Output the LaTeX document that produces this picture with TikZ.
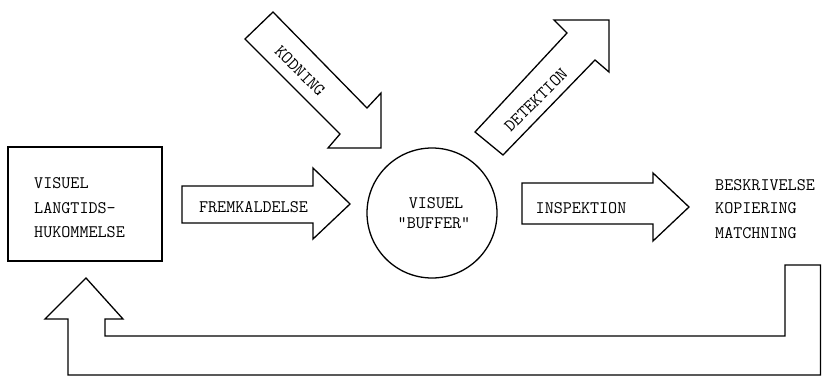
\documentclass[tikz,border=0pt]{standalone}
\usepackage{fontspec}
\begin{document}
\begin{tikzpicture}[x=1pt,y=-1pt,
  shapeline/.style={draw=black,line width=1.3pt,line join=miter},
  lbl/.style={font=\ttfamily\fontsize{17.6}{20}\selectfont,inner sep=0pt},
  lblw/.style={lbl,anchor=base west},
  lblc/.style={lbl,anchor=base}]
\useasboundingbox[fill=white] (0,0) rectangle (822,377);

% visual long-term memory box
\node[shapeline,line width=1.6pt,minimum width=154pt,minimum height=114pt,inner sep=0pt] (vlt) at (85,204) {};
\node[lblw] (vlt1) at (34,188) {VISUEL};
\node[lblw] (vlt2) at (34,213) {LANGTIDS-};
\node[lblw] (vlt3) at (34,237) {HUKOMMELSE};

% visual buffer
\node[shapeline,circle,minimum size=130pt,inner sep=0pt] (buf) at (432,213) {};
\node[lblc] (buf1) at (436,208) {VISUEL};
\node[lblc] (buf2) at (434,228) {"BUFFER"};

% FREMKALDELSE arrow
\draw[shapeline] (182,186) -- (313,186) -- (313,168) -- (350,204) -- (313,239)
  -- (313,223) -- (182,223) -- cycle;
\node[lblc] (frem) at (253.5,212.5) {FREMKALDELSE};

% INSPEKTION arrow
\draw[shapeline] (522,183) -- (653,183) -- (653,173) -- (689,207) -- (653,241)
  -- (653,224) -- (522,224) -- cycle;
\node[lblc] (insp) at (581,213) {INSPEKTION};

% KODNING arrow
\draw[shapeline] (273,12) -- (367,108) -- (381,93) -- (381,148) -- (328,148)
  -- (340,134) -- (245,39) -- cycle;
\node[lbl,rotate=-45] (kod) at (300,71) {KODNING};

% DETEKTION arrow
\draw[shapeline] (475,132) -- (567,33) -- (554,20) -- (609,20) -- (609,72)
  -- (595,60) -- (503,155) -- cycle;
\node[lbl,rotate=45] (det) at (536,100) {DETEKTION};

% outputs
\node[lblw] (out1) at (715,190) {BESKRIVELSE};
\node[lblw] (out2) at (715,213) {KOPIERING};
\node[lblw] (out3) at (715,238) {MATCHNING};

% feedback arrow
\draw[shapeline] (86,278) -- (123,319) -- (105,319) -- (105,336) -- (785,336)
  -- (785,265) -- (820.5,265) -- (820.5,375) -- (68,375) -- (68,319) -- (45,319) -- cycle;
\end{tikzpicture}
\end{document}
